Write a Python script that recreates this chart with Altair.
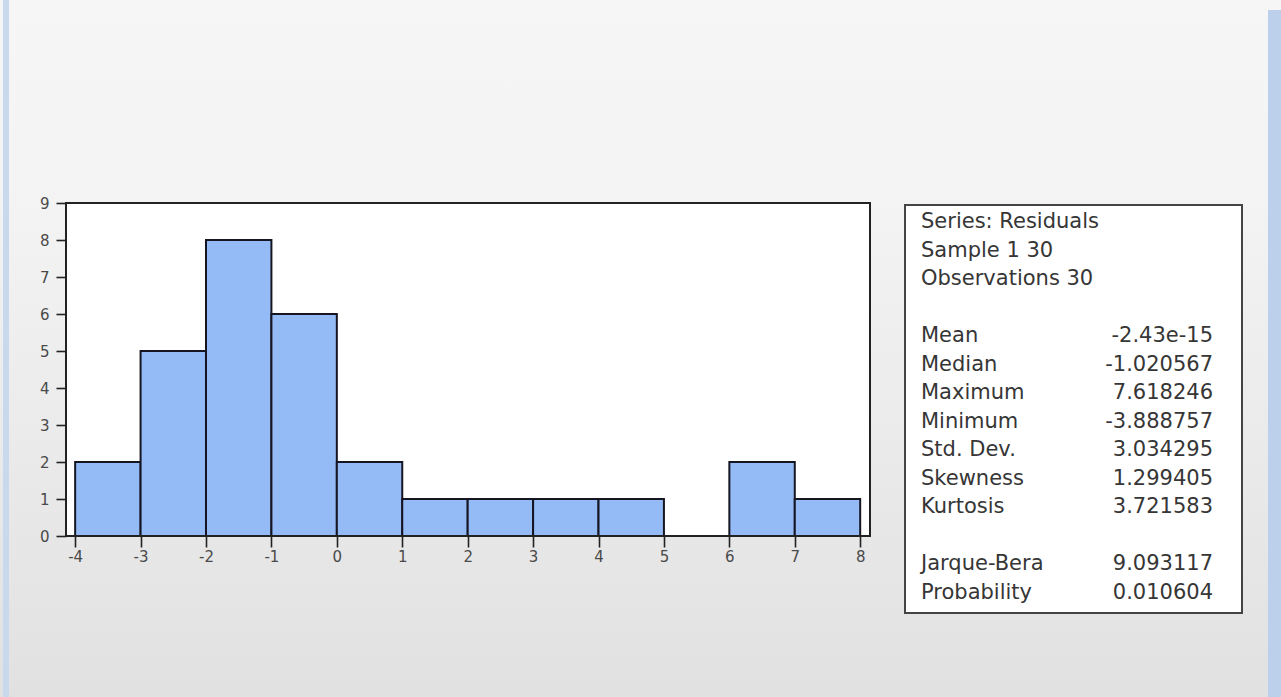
import altair as alt
import pandas as pd

# ---- data ----
bin_start = [-4, -3, -2, -1, 0, 1, 2, 3, 4, 5, 6, 7]
bin_end = [-3, -2, -1, 0, 1, 2, 3, 4, 5, 6, 7, 8]
counts = [2, 5, 8, 6, 2, 1, 1, 1, 1, 0, 2, 1]

x_ticks = [-4, -3, -2, -1, 0, 1, 2, 3, 4, 5, 6, 7, 8]
y_ticks = [0, 1, 2, 3, 4, 5, 6, 7, 8, 9]

stat_labels = ["Series: Residuals", "Sample 1 30", "Observations 30",
               "Mean", "Median", "Maximum", "Minimum", "Std. Dev.",
               "Skewness", "Kurtosis", "Jarque-Bera", "Probability"]
stat_values = ["", "", "",
               "-2.43e-15", "-1.020567", "7.618246", "-3.888757", "3.034295",
               "1.299405", "3.721583", "9.093117", "0.010604"]
stat_rows = [0, 1, 2, 4, 5, 6, 7, 8, 9, 10, 12, 13]

hist = pd.DataFrame({"start": bin_start, "end": bin_end, "count": counts})
hist = hist[hist["count"] > 0]
stats = pd.DataFrame({"label": stat_labels, "value": stat_values, "row": stat_rows})

W, H = 804, 333
PL, PT, PR, PB = 66, 203, 411, 161
FONT = "DejaVu Sans"

xscale = alt.Scale(domain=[-4.14, 8.15], nice=False, zero=False)
yscale = alt.Scale(domain=[0, 9], nice=False, zero=False)

dummy = pd.DataFrame({"a": [0]})

# background gradient over whole canvas
bg = alt.Chart(dummy).mark_rect(
    color={"gradient": "linear", "x1": 0, "y1": 0, "x2": 0, "y2": 1,
           "stops": [{"offset": 0, "color": "#f6f6f6"},
                     {"offset": 0.3, "color": "#f3f3f3"},
                     {"offset": 1, "color": "#e1e1e1"}]}
).encode(x=alt.value(-PL), x2=alt.value(W + PR), y=alt.value(-PT), y2=alt.value(H + PB))

left_strip = alt.Chart(dummy).mark_rect(color="#c9d9ec").encode(
    x=alt.value(-PL + 3), x2=alt.value(-PL + 9), y=alt.value(-PT), y2=alt.value(H + PB))
right_strip = alt.Chart(dummy).mark_rect(color="#bcd0ec").encode(
    x=alt.value(1268 - PL), x2=alt.value(W + PR), y=alt.value(-PT + 10), y2=alt.value(H + PB))

plot_bg = alt.Chart(dummy).mark_rect(color="white").encode(
    x=alt.value(0), x2=alt.value(W), y=alt.value(0), y2=alt.value(H))

bars = alt.Chart(hist).mark_rect(
    fill="#94bbf6", stroke="#161622", strokeWidth=2
).encode(
    x=alt.X("start:Q", scale=xscale,
            axis=alt.Axis(values=x_ticks, title=None, grid=False, domain=False,
                          tickSize=11, tickColor="#222222", tickWidth=1.6,
                          labelColor="#4a4a4a", labelFont=FONT, labelFontSize=15,
                          labelPadding=2, zindex=1, labelExpr="'' + datum.value")),
    x2="end:Q",
    y=alt.Y("count:Q", scale=yscale,
            axis=alt.Axis(values=y_ticks, title=None, grid=False, domain=False,
                          tickSize=10, tickColor="#222222", tickWidth=1.6,
                          labelColor="#4a4a4a", labelFont=FONT, labelFontSize=15,
                          labelPadding=7, zindex=1, labelExpr="'' + datum.value")),
    y2=alt.datum(0),
)

frame = alt.Chart(dummy).mark_rect(
    fillOpacity=0, stroke="#222222", strokeWidth=2
).encode(x=alt.value(0), x2=alt.value(W), y=alt.value(0), y2=alt.value(H))

box = alt.Chart(dummy).mark_rect(
    fill="white", stroke="#444444", strokeWidth=2
).encode(x=alt.value(905 - PL), x2=alt.value(1242 - PL), y=alt.value(2), y2=alt.value(410))

rowscale = alt.Scale(domain=[0, 13], range=[19, 389.5], nice=False, zero=False)

labels = alt.Chart(stats).mark_text(
    align="left", baseline="middle", font=FONT, fontSize=21, color="#363636"
).encode(
    x=alt.value(921 - PL),
    y=alt.Y("row:Q", scale=rowscale, axis=None),
    text="label:N",
)
values = alt.Chart(stats).mark_text(
    align="right", baseline="middle", font=FONT, fontSize=21, color="#363636"
).encode(
    x=alt.value(1213 - PL),
    y=alt.Y("row:Q", scale=rowscale, axis=None),
    text="value:N",
)

stats_layer = alt.layer(box, labels, values)

chart = alt.layer(
    bg, left_strip, right_strip, plot_bg, bars, frame, stats_layer
).resolve_scale(y="independent").properties(
    width=W, height=H,
    padding={"left": PL, "top": PT, "right": PR, "bottom": PB},
    autosize=alt.AutoSizeParams(type="none"),
).configure_view(stroke=None)

chart.save("out.html", embed_options={"renderer": "svg", "actions": False})
